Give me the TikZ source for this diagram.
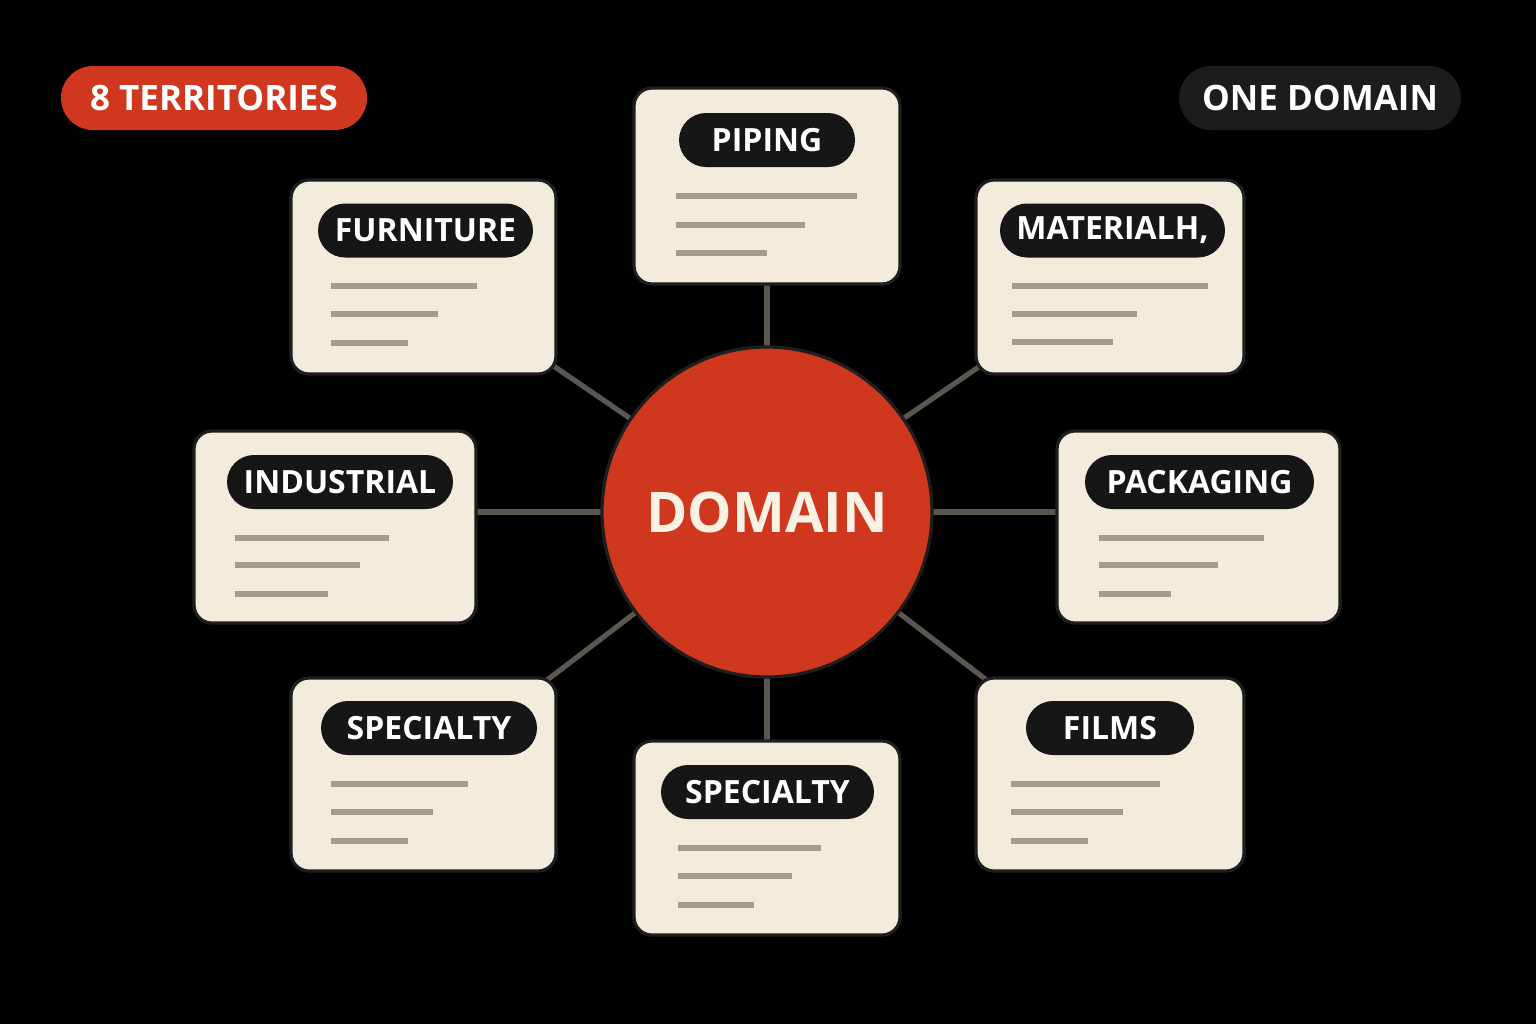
\documentclass[tikz,border=0pt]{standalone}
\usepackage{fontspec}
\setmainfont{Open Sans}
\usetikzlibrary{shapes.misc,backgrounds}
\definecolor{bgk}{HTML}{000000}
\definecolor{domred}{HTML}{D0371F}
\definecolor{cream}{HTML}{F3ECDD}
\definecolor{creamtxt}{HTML}{F8F1E4}
\definecolor{pillk}{HTML}{161616}
\definecolor{onek}{HTML}{1C1C1C}
\definecolor{edgek}{HTML}{1E1E1E}
\definecolor{conn}{HTML}{5A5650}
\definecolor{barc}{HTML}{A29C8C}
\definecolor{baredge}{HTML}{77715F}
\tikzset{
  card/.style={draw=edgek, line width=1.6pt, fill=cream, rounded corners=9pt, inner sep=0pt},
  pill/.style={rounded rectangle, fill=pillk, text=white, minimum height=27pt, inner sep=0pt,
    font=\fontsize{16}{18}\selectfont\bfseries},
  bar/.style={draw=barc, line width=2.6pt, preaction={draw=baredge, line width=3.4pt}},
  link/.style={draw=conn, line width=2.6pt},
  badge/.style={rounded rectangle, minimum height=32pt, inner sep=0pt, text=white,
    font=\fontsize{17.5}{20}\selectfont\bfseries},
}
\begin{document}
\begin{tikzpicture}[x=0.5pt, y=-0.5pt]
\useasboundingbox (0,0) rectangle (1536,1024);

% badges
\node[badge, fill=domred, minimum width=153pt] (terr) at (214,98) {8 TERRITORIES};
\node[badge, fill=onek, minimum width=141pt] (one) at (1320,98) {ONE DOMAIN};

% center
\node[circle, draw=edgek, line width=1.6pt, fill=domred, minimum size=165pt, inner sep=0pt,
  text=creamtxt, font=\fontsize{28}{32}\selectfont\bfseries] (dom) at (767,512) {DOMAIN};

% cards
\node[card, minimum width=133pt, minimum height=98pt] (pip) at (767,186) {};
\node[card, minimum width=132.5pt, minimum height=97pt] (fur) at (423.5,277) {};
\node[card, minimum width=134pt, minimum height=97pt] (mat) at (1110,277) {};
\node[card, minimum width=141pt, minimum height=96pt] (ind) at (335,527) {};
\node[card, minimum width=141.5pt, minimum height=96pt] (pac) at (1198.5,527) {};
\node[card, minimum width=132.5pt, minimum height=96.5pt] (spl) at (423.5,774.5) {};
\node[card, minimum width=133pt, minimum height=97pt] (spb) at (767,838) {};
\node[card, minimum width=134pt, minimum height=96.5pt] (fil) at (1110,774.5) {};

% background and connectors
\begin{scope}[on background layer]
\fill[bgk] (0,0) rectangle (1536,1024);
\foreach \c in {pip,fur,mat,spl,spb,fil}
  \draw[link] (dom.center) -- (\c.center);
\draw[link] (dom.center) -- (dom.center -| ind.center);
\draw[link] (dom.center) -- (dom.center -| pac.center);
\end{scope}

% pills
\node[pill, minimum width=88pt] (pipl) at (767,140) {PIPING};
\node[pill, minimum width=107.5pt] (furl) at (425.5,230.5) {FURNITURE};
\node[pill, minimum width=112.5pt] (matl) at (1112.5,230.5) {MATERIALH,};
\node[pill, minimum width=113pt] (indl) at (340,482) {INDUSTRIAL};
\node[pill, minimum width=114.5pt] (pacl) at (1199.5,482) {PACKAGING};
\node[pill, minimum width=108pt] (spll) at (429,728) {SPECIALTY};
\node[pill, minimum width=106.5pt] (spbl) at (767.5,792) {SPECIALTY};
\node[pill, minimum width=84pt] (fill) at (1110,728) {FILMS};

% text bars
\draw[bar] (676,196) -- (857,196); \draw[bar] (676,225) -- (805,225); \draw[bar] (676,253) -- (767,253);
\draw[bar] (331,286) -- (477,286); \draw[bar] (331,314) -- (438,314); \draw[bar] (331,343) -- (408,343);
\draw[bar] (1012,286) -- (1208,286); \draw[bar] (1012,314) -- (1137,314); \draw[bar] (1012,342) -- (1113,342);
\draw[bar] (235,538) -- (389,538); \draw[bar] (235,565) -- (360,565); \draw[bar] (235,594) -- (328,594);
\draw[bar] (1099,538) -- (1264,538); \draw[bar] (1099,565) -- (1218,565); \draw[bar] (1099,594) -- (1171,594);
\draw[bar] (331,784) -- (468,784); \draw[bar] (331,812) -- (433,812); \draw[bar] (331,841) -- (408,841);
\draw[bar] (678,848) -- (821,848); \draw[bar] (678,876) -- (792,876); \draw[bar] (678,905) -- (754,905);
\draw[bar] (1011,784) -- (1160,784); \draw[bar] (1011,812) -- (1123,812); \draw[bar] (1011,841) -- (1088,841);
\end{tikzpicture}
\end{document}
